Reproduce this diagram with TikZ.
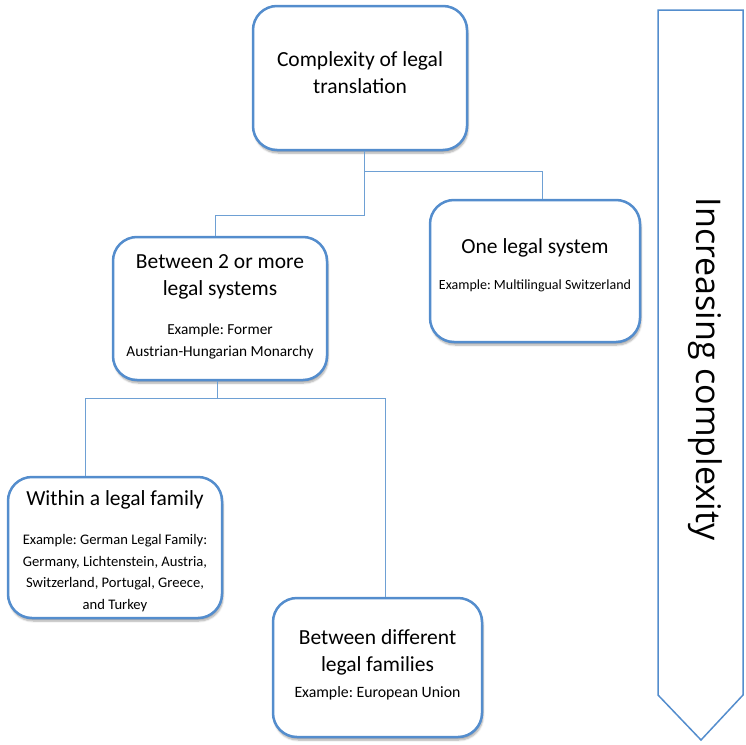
\documentclass[tikz,border=0pt]{standalone}
\usepackage{fontspec}
\setmainfont{Carlito}
\newfontfamily\arrowfont{Open Sans}
\frenchspacing
\usetikzlibrary{shadows.blur}
\definecolor{boxblue}{RGB}{84,141,205}
\definecolor{lineblue}{RGB}{110,160,212}
\tikzset{
  box/.style={draw=boxblue, line width=2.5pt, rounded corners=24pt, fill=white,
    blur shadow={shadow blur steps=6, shadow xshift=1pt, shadow yshift=-3pt, shadow opacity=35}},
  conn/.style={draw=lineblue, line width=1pt},
  ttl/.style={align=center, font=\fontsize{21.5}{27}\selectfont, inner sep=0pt},
  exm/.style={align=center, inner sep=0pt},
}
\begin{document}
\begin{tikzpicture}[x=1pt,y=-1pt]
\useasboundingbox (0,0) rectangle (746,744);
% arrow
\draw[draw=boxblue, line width=1.5pt, fill=white] (658,10) -- (743,10) -- (743,695) -- (701,740) -- (658,695) -- cycle;
\node[rotate=-90, font=\arrowfont\fontsize{34}{36}\selectfont, inner sep=0pt] (arrowtxt) at (705,369) {Increasing complexity};

% boxes
\node[box, minimum width=214pt, minimum height=144pt] (top) at (360,78) {};
\node[box, minimum width=210pt, minimum height=142pt] (one) at (535,271) {};
\node[box, minimum width=214pt, minimum height=143pt] (two) at (220,308.5) {};
\node[box, minimum width=214pt, minimum height=141pt] (within) at (115,547.5) {};
\node[box, minimum width=209pt, minimum height=139pt] (diff) at (377.5,667.5) {};

% texts
\node[ttl] (toptxt) at (360,73) {Complexity of legal\\translation};
\node[ttl] (onettl) at (535,248) {One legal system};
\node[exm, font=\fontsize{14}{20}\selectfont] (oneex) at (535,286) {Example: Multilingual Switzerland};
\node[ttl] (twottl) at (220,277) {Between 2 or more\\legal systems};
\node[exm, font=\fontsize{15.3}{22}\selectfont] (twoex) at (220,341) {Example: Former\\Austrian-Hungarian Monarchy};
\node[ttl] (withinttl) at (115,500) {Within a legal family};
\node[exm, font=\fontsize{14.6}{21.7}\selectfont] (withinex) at (115,573) {Example: German Legal Family:\\Germany, Lichtenstein, Austria,\\Switzerland, Portugal, Greece,\\and Turkey};
\node[ttl] (diffttl) at (377.5,652) {Between different\\legal families};
\node[exm, font=\fontsize{15.8}{20}\selectfont] (diffex) at (377.5,693) {Example: European Union};

% connectors
\coordinate (ja) at (364,171);
\coordinate (jb) at (364,215);
\coordinate (jc) at (217,398);
\draw[conn] (top.south -| ja) -- (jb) -- (215,215) -- (two.north -| 215,0);
\draw[conn] (ja) -- (542,171) -- (one.north -| 542,0);
\draw[conn] (two.south -| jc) -- (jc);
\draw[conn] (85,398) -- (385,398);
\draw[conn] (85,398) -- (within.north -| 85,0);
\draw[conn] (385,398) -- (diff.north -| 385,0);
\end{tikzpicture}
\end{document}
